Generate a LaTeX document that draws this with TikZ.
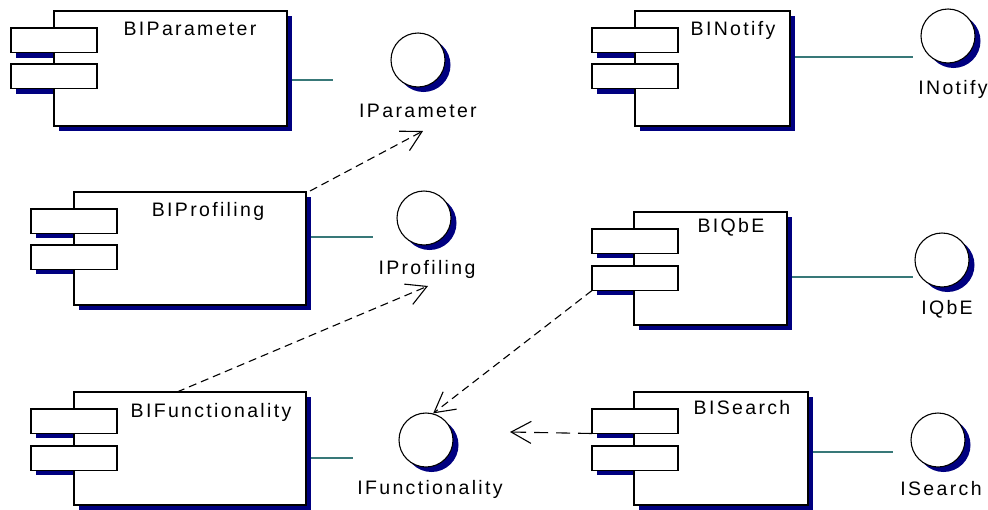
\documentclass[tikz,border=0pt]{standalone}
\usepackage{fontspec}
\setmainfont{Liberation Sans}[LetterSpace=12]
\usetikzlibrary{shadows,arrows.meta}
\definecolor{shade}{RGB}{0,0,128}
\definecolor{wire}{RGB}{56,120,120}
\tikzset{
  compbox/.style={draw, line width=1.4pt, fill=white, rectangle, inner sep=0pt, outer sep=0pt,
    anchor=north west,
    general shadow={fill=shade, shadow xshift=5pt, shadow yshift=-5pt}},
  portbox/.style={draw, line width=1.4pt, fill=white, rectangle, inner sep=0pt, outer sep=0pt,
    anchor=north west, minimum width=86pt, minimum height=24.5pt},
  portshade/.style={fill=shade},
  iface/.style={draw, circle, line width=1.1pt, fill=white, inner sep=0pt, minimum size=54pt,
    general shadow={fill=shade, shadow xshift=5.5pt, shadow yshift=-5pt}},
  lbl/.style={anchor=base, inner sep=1pt, font=\fontsize{19.5pt}{22pt}\selectfont},
  wireline/.style={draw=wire, line width=1.4pt},
  dep/.style={draw, line width=1.1pt, dash pattern=on 8pt off 5pt,
    -{Straight Barb[length=20pt,width=22pt,line width=1.1pt]}},
  deplong/.style={dep, dash pattern=on 14pt off 8pt},
}
\begin{document}
\begin{tikzpicture}[x=1pt,y=-1pt]
\useasboundingbox (0,0) rectangle (988,509);

% ---------- BIParameter ----------
\fill[portshade] (16,32) rectangle (102,57.5);
\fill[portshade] (16,68) rectangle (102,93.5);
\node[compbox, minimum width=233pt, minimum height=115pt] (bip) at (54,11) {};
\node[portbox] (bipa) at (11,28) {};
\node[portbox] (bipb) at (11,64) {};
\node[lbl] (bipl) at (190,35) {BIParameter};
\coordinate (bipw) at (333,80);
\draw[wireline] ([xshift=5pt]bip.east |- bipw) -- (bipw);

% ---------- BINotify ----------
\fill[portshade] (597,32) rectangle (683,57.5);
\fill[portshade] (597,68) rectangle (683,93.5);
\node[compbox, minimum width=155pt, minimum height=115pt] (bin) at (635,11) {};
\node[portbox] (bina) at (592,28) {};
\node[portbox] (binb) at (592,64) {};
\node[lbl] (binl) at (733,35) {BINotify};
\coordinate (binw) at (913,57);
\draw[wireline] ([xshift=5pt]bin.east |- binw) -- (binw);

% ---------- BIProfiling ----------
\fill[portshade] (36,213) rectangle (122,238);
\fill[portshade] (36,249) rectangle (122,274);
\node[compbox, minimum width=232pt, minimum height=113pt] (bipro) at (74,192) {};
\node[portbox] (biproa) at (31,209) {};
\node[portbox] (biprob) at (31,245) {};
\node[lbl] (biprol) at (208,216) {BIProfiling};
\coordinate (biprow) at (373,237);
\draw[wireline] ([xshift=5pt]bipro.east |- biprow) -- (biprow);

% ---------- BIFunctionality ----------
\fill[portshade] (36,413) rectangle (122,438);
\fill[portshade] (36,450) rectangle (122,475);
\node[compbox, minimum width=232pt, minimum height=113pt] (bifun) at (74,392) {};
\node[portbox] (bifuna) at (31,409) {};
\node[portbox] (bifunb) at (31,446) {};
\node[lbl] (bifunl) at (211,417) {BIFunctionality};
\coordinate (bifunw) at (353,458);
\draw[wireline] ([xshift=5pt]bifun.east |- bifunw) -- (bifunw);

% ---------- BIQbE ----------
\fill[portshade] (597,233) rectangle (683,258);
\fill[portshade] (597,270) rectangle (683,295);
\node[compbox, minimum width=153pt, minimum height=113pt] (biq) at (634,212) {};
\node[portbox] (biqa) at (592,229) {};
\node[portbox] (biqb) at (592,266) {};
\node[lbl] (biql) at (731,232) {BIQbE};
\coordinate (biqw) at (913,277);
\draw[wireline] ([xshift=5pt]biq.east |- biqw) -- (biqw);

% ---------- BISearch ----------
\fill[portshade] (597,413) rectangle (683,438);
\fill[portshade] (597,450) rectangle (683,475);
\node[compbox, minimum width=174pt, minimum height=113pt] (bis) at (634,392) {};
\node[portbox] (bisa) at (592,409) {};
\node[portbox] (bisb) at (592,446) {};
\node[lbl] (bisl) at (742,414) {BISearch};
\coordinate (bisw) at (893,452);
\draw[wireline] ([xshift=5pt]bis.east |- bisw) -- (bisw);

% ---------- interfaces ----------
\node[iface] (ipar) at (418,60) {};
\node[lbl] (iparl) at (418,117) {IParameter};
\node[iface] (inot) at (948,36) {};
\node[lbl] (inotl) at (953,94) {INotify};
\node[iface] (ipro) at (424,218) {};
\node[lbl] (iprol) at (427,274) {IProfiling};
\node[iface] (ifun) at (426,440) {};
\node[lbl] (ifunl) at (430,494) {IFunctionality};
\node[iface] (iqbe) at (942,260) {};
\node[lbl] (iqbel) at (947,314) {IQbE};
\node[iface] (isea) at (938,440) {};
\node[lbl] (iseal) at (941,495) {ISearch};

% ---------- dependencies ----------
\coordinate (partip) at (423,131);
\coordinate (protip) at (428,286);
\coordinate (srchtip) at (510,432);
\draw[dep] ([xshift=4pt,yshift=1pt]bipro.north east) -- (partip);
\draw[dep] ([xshift=-13pt]bifun.north) -- (protip);
\draw[dep] (biqb.south west) -- (ifun.75);
\draw[deplong] (bisa.south west) -- (srchtip);
\end{tikzpicture}
\end{document}
